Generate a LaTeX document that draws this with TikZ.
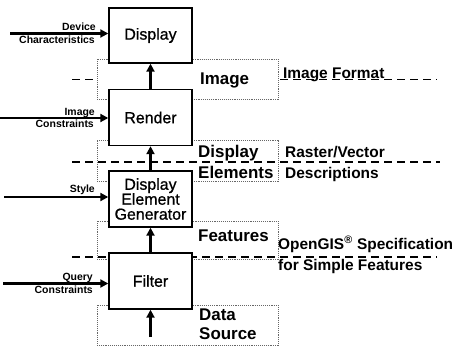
\documentclass[tikz,border=0pt]{standalone}
\usepackage{fontspec}
\setmainfont{Liberation Sans}
\newfontfamily\boxfont{Liberation Sans}[BoldFont={Liberation Sans}, BoldFeatures={FakeBold=0.8}]
\usetikzlibrary{arrows.meta}
\begin{document}
\begin{tikzpicture}[x=1bp,y=-1bp,
  proc/.style={draw, line width=1.4bp, fill=white, minimum width=83bp, minimum height=55bp, inner sep=0pt, font=\boxfont\bfseries\fontsize{16}{15}\selectfont, align=center},
  frame/.style={draw=black!60, densely dotted, line width=0.9bp, minimum width=181bp, inner sep=0pt},
  flow/.style={-{Triangle[length=8bp,width=8bp]}, line width=2.6bp},
  inlab/.style={font=\bfseries\fontsize{10.5}{11}\selectfont, anchor=base east, inner sep=0pt},
  flab/.style={font=\bfseries\fontsize{17}{17}\selectfont, anchor=base west, inner sep=0pt},
  rlab/.style={font=\bfseries\fontsize{15.5}{15.5}\selectfont, anchor=base west, inner sep=0pt},
  spec/.style={dash pattern=on 8bp off 5bp, line width=1.4bp}
]
\useasboundingbox (0,0) rectangle (453,349);

% dashed specification lines
\coordinate (l1a) at (72,79.5);  \coordinate (l1b) at (437,79.5);
\coordinate (l2a) at (72,162); \coordinate (l2b) at (440,162);
\coordinate (l3a) at (72,257); \coordinate (l3b) at (437,257);
\draw[spec] (l1a) -- (l1b);

% data frames
\node[frame, fill=white, minimum height=40bp] (fimage) at (187.5,79) {};
\node[frame, minimum height=41bp] (felem) at (187.5,160.5) {};
\node[frame, minimum height=38bp] (ffeat) at (187.5,240) {};
\node[frame, minimum height=40bp] (fsrc) at (187.5,325) {};

\draw[spec] (l2a) -- (l2b);
\draw[spec] (l3a) -- (l3b);

% frame labels
\node[flab] (timage) at (200,84) {Image};
\node[flab] (telem1) at (198,157) {Display};
\node[flab] (telem2) at (198,178) {Elements};
\node[flab] (tfeat) at (198,241) {Features};
\node[flab] (tsrc1) at (199,320) {Data};
\node[flab] (tsrc2) at (199,339) {Source};

% right labels
\node[rlab] (rimg) at (283,78) {Image Format};
\node[rlab] (rras) at (285,157) {Raster/Vector};
\node[rlab] (rdes) at (285,178) {Descriptions};
\node[rlab] (rogc) at (278,249) {OpenGIS\textsuperscript{®} Specification};
\node[rlab] (rsf) at (278,270) {for Simple Features};

% process boxes
\node[proc] (display) at (150.5,35.5) {Display};
\node[proc, minimum height=56bp] (render) at (150.5,117.5) {Render};
\node[proc, minimum height=56bp] (deg) at (150.5,199) {Display\\Element\\Generator};
\node[proc, minimum height=56bp] (filter) at (150.5,281) {Filter};

% vertical flow
\draw[flow] (render.north) -- (display.south);
\draw[flow] (deg.north) -- (render.south);
\draw[flow] (filter.north) -- (deg.south);
\coordinate (srcpt) at (150.5,337);
\draw[flow] (srcpt) -- (filter.south);

% inputs
\coordinate (in1) at (10,33.5);
\coordinate (in2) at (0,118);
\coordinate (in3) at (4,197);
\coordinate (in4) at (3,283.5);
\draw[flow] (in1) -- (in1 -| display.west);
\draw[flow] (in2) -- (in2 -| render.west);
\draw[flow] (in3) -- (in3 -| deg.west);
\draw[flow] (in4) -- (in4 -| filter.west);

\node[inlab] (ldev1) at (96,30) {Device};
\node[inlab] (ldev2) at (95,43) {Characteristics};
\node[inlab] (limg1) at (95,115) {Image};
\node[inlab] (limg2) at (94,127) {Constraints};
\node[inlab] (lsty) at (95,192) {Style};
\node[inlab] (lqry1) at (93,280) {Query};
\node[inlab] (lqry2) at (93,293) {Constraints};
\end{tikzpicture}
\end{document}
